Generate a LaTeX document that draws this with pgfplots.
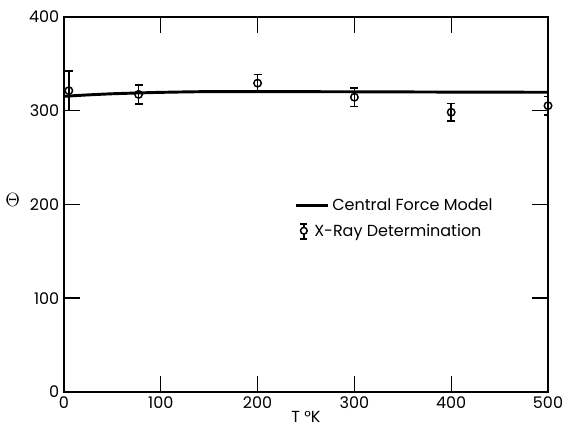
\documentclass[border=0pt]{standalone}
\usepackage{fontspec}
\setmainfont{Poppins}
\usepackage{pgfplots}
\pgfplotsset{compat=1.18}
\begin{document}
\begin{tikzpicture}
\useasboundingbox (-48pt,-27.75pt) rectangle (376.5pt,294pt);
\begin{axis}[
  at={(0,0)}, anchor=south west,
  scale only axis, width=363pt, height=281.625pt,
  xmin=0, xmax=500, ymin=0, ymax=400,
  xtick={0,100,...,500}, ytick={0,100,...,400},
  axis line style={line width=1.5pt},
  major tick style={line width=1pt, black},
  xtick style={line width=1pt, draw=black},
  major tick length=12pt,
  tick align=inside,
  xtick pos=both,
  font=\fontsize{12}{14}\selectfont,
  /pgf/number format/assume math mode=true,
  xlabel={T °K},
  xlabel style={yshift=5pt},
  ylabel={$\Theta$},
  ylabel style={rotate=-90, font=\Large, yshift=3pt},
  legend style={draw=none, fill=none, at={(0.468,0.53)}, anchor=north west,
    font=\fontsize{12}{14}\selectfont, row sep=5pt},
  legend cell align=left,
]
\addplot[black, line width=2.2pt, smooth,
  legend image post style={xscale=1.4}
] coordinates {
  (0,315) (25,316.5) (50,317.7) (75,318.5) (100,319.2) (150,320)
  (200,320) (300,319.8) (400,319.5) (500,319.3)
};
\addlegendentry{Central Force Model}
\addplot[black, only marks, mark=o,
  mark options={fill=white, line width=1.1pt, mark size=2.8pt},
  legend image code/.code={
    \draw[line width=1.1pt] (0.2cm,-0.2cm) -- (0.2cm,0.2cm);
    \draw[line width=1.1pt] (0.11cm,0.2cm) -- (0.29cm,0.2cm);
    \draw[line width=1.1pt] (0.11cm,-0.2cm) -- (0.29cm,-0.2cm);
    \draw[line width=1.1pt, fill=white] (0.2cm,0.02cm) circle (2.5pt);
  },
  error bars/.cd, y dir=both, y explicit,
  error bar style={line width=1.1pt},
  error mark options={rotate=90, mark size=3pt, line width=1.1pt},
] coordinates {
  (5,321) +- (0,21)
  (77,317) +- (0,10)
  (200,329) +- (0,9)
  (300,314) +- (0,10)
  (400,298) +- (0,9.5)
  (500,305) +- (0,10)
};
\addlegendentry{\hspace*{-13.5pt}X-Ray Determination}
\pgfplotsinvokeforeach{100,200,300,400}{
  \draw[line width=1pt, black] (axis cs:#1,0) -- ++(0pt,12pt);
  \draw[line width=1pt, black] (axis cs:#1,400) -- ++(0pt,-12pt);
}
\end{axis}
\end{tikzpicture}
\end{document}
